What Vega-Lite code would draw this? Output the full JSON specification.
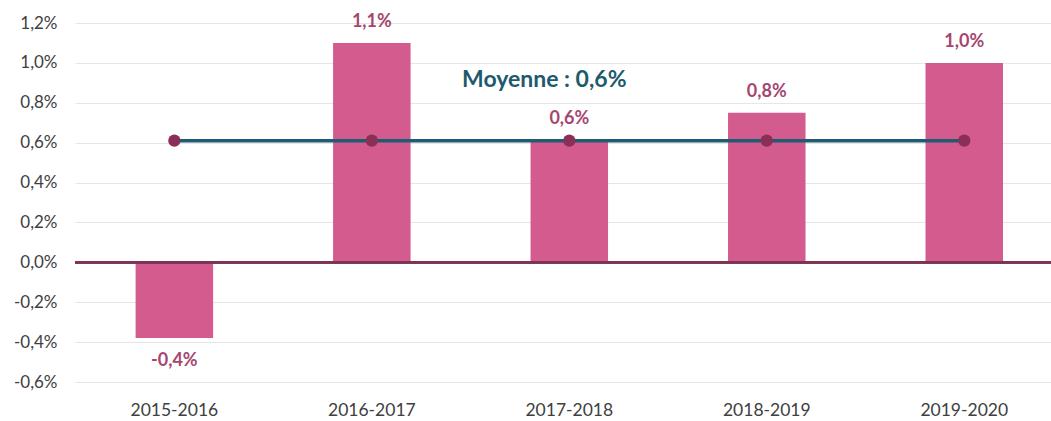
{
  "$schema": "https://vega.github.io/schema/vega-lite/v6.json",
  "autosize": {"type": "none"},
  "padding": {"left": 75, "top": 23, "right": 0, "bottom": 39},
  "width": 976,
  "height": 359,
  "background": "white",
  "config": {
    "view": {"stroke": null},
    "font": "Lato",
    "axis": {"labelFont": "Lato"}
  },
  "data": {
    "values": [
      {"annee": "2015-2016", "valeur": -0.38, "label": "-0,4%", "moyenne": 0.61},
      {"annee": "2016-2017", "valeur": 1.10, "label": "1,1%", "moyenne": 0.61},
      {"annee": "2017-2018", "valeur": 0.615, "label": "0,6%", "moyenne": 0.61},
      {"annee": "2018-2019", "valeur": 0.75, "label": "0,8%", "moyenne": 0.61},
      {"annee": "2019-2020", "valeur": 1.0, "label": "1,0%", "moyenne": 0.61}
    ]
  },
  "encoding": {
    "x": {
      "field": "annee",
      "type": "nominal",
      "sort": null,
      "scale": {"paddingInner": 0.6076, "paddingOuter": 0.275, "align": 0.558},
      "axis": {
        "title": null,
        "labelAngle": 0,
        "labelFontSize": 17.5,
        "labelColor": "#404040",
        "labelPadding": 19,
        "ticks": false,
        "domain": false
      }
    }
  },
  "layer": [
    {
      "mark": {"type": "bar", "color": "#d45b8e"},
      "encoding": {
        "y": {
          "field": "valeur",
          "type": "quantitative",
          "scale": {"domain": [-0.6, 1.2], "nice": false, "zero": false},
          "axis": {
            "title": null,
            "values": [-0.6, -0.4, -0.2, 0, 0.2, 0.4, 0.6, 0.8, 1.0, 1.2],
            "tickCount": 20,
            "labelExpr": "replace(replace(format(datum.value, '.1f'), '.', ','), '\u2212', '-') + '%'",
            "labelOverlap": false,
            "labelFontSize": 17,
            "labelColor": "#404040",
            "labelPadding": 18,
            "ticks": false,
            "domain": false,
            "grid": true,
            "gridColor": "#e6e6e6",
            "gridWidth": 1
          }
        }
      }
    },
    {
      "mark": {"type": "rule", "color": "#7d3454", "strokeWidth": 2.5},
      "encoding": {"y": {"datum": 0, "type": "quantitative"}, "x": {"value": 0}, "x2": {"value": 976}}
    },
    {
      "transform": [{"filter": "datum.valeur >= 0"}],
      "mark": {"type": "text", "baseline": "bottom", "dy": -12, "fontSize": 18, "fontWeight": "bold", "color": "#a64670"},
      "encoding": {
        "y": {"field": "valeur", "type": "quantitative"},
        "text": {"field": "label"}
      }
    },
    {
      "transform": [{"filter": "datum.valeur < 0"}],
      "mark": {"type": "text", "baseline": "top", "dy": 14, "fontSize": 18, "fontWeight": "bold", "color": "#a64670"},
      "encoding": {
        "y": {"field": "valeur", "type": "quantitative"},
        "text": {"field": "label"}
      }
    },
    {
      "mark": {"type": "line", "color": "#1f5c73", "strokeWidth": 3.5},
      "encoding": {"y": {"field": "moyenne", "type": "quantitative"}}
    },
    {
      "mark": {"type": "point", "filled": true, "color": "#8a2f55", "opacity": 1, "size": 150},
      "encoding": {"y": {"field": "moyenne", "type": "quantitative"}}
    },
    {
      "data": {"values": [{"annee": "2017-2018", "y": 0.912, "texte": "Moyenne : 0,6%"}]},
      "mark": {"type": "text", "dx": -25, "fontSize": 23, "fontWeight": "bold", "color": "#1d5a6e", "baseline": "middle"},
      "encoding": {
        "x": {"field": "annee", "type": "nominal"},
        "y": {"field": "y", "type": "quantitative"},
        "text": {"field": "texte"}
      }
    }
  ]
}
